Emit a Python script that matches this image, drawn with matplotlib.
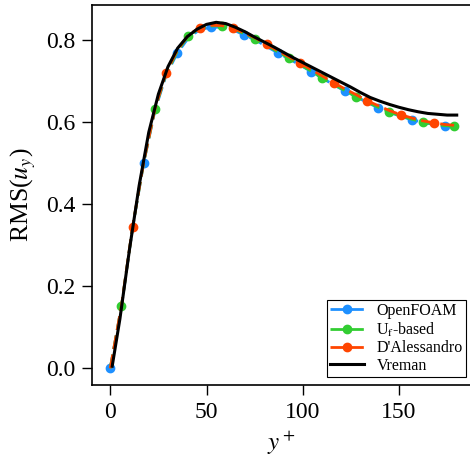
import numpy as np
import matplotlib
matplotlib.use("Agg")
import matplotlib.pyplot as plt

plt.rcParams["font.family"] = ["Liberation Serif", "DejaVu Serif"]
plt.rcParams["mathtext.fontset"] = "stix"

# shared y+ grid for the three LES runs (markers every third point, staggered)
yplus = [0.0, 5.8, 11.6, 17.4, 23.2, 29.0, 34.8, 40.6, 46.4, 52.2, 58.0, 63.8,
         69.6, 75.4, 81.2, 87.0, 92.8, 98.6, 104.4, 110.2, 116.0, 121.8, 127.6,
         133.4, 139.2, 145.0, 150.8, 156.6, 162.4, 168.2, 174.0, 178.8]

openfoam = [0.0, 0.150, 0.343, 0.501, 0.628, 0.714, 0.768, 0.805, 0.825, 0.831,
            0.831, 0.825, 0.812, 0.800, 0.784, 0.769, 0.754, 0.739, 0.723, 0.707,
            0.691, 0.676, 0.662, 0.648, 0.635, 0.624, 0.614, 0.606, 0.599, 0.594,
            0.590, 0.589]
uf_based = [0.0, 0.151, 0.344, 0.502, 0.631, 0.717, 0.772, 0.810, 0.828, 0.834,
            0.835, 0.828, 0.815, 0.803, 0.787, 0.771, 0.756, 0.740, 0.724, 0.707,
            0.692, 0.677, 0.662, 0.649, 0.636, 0.625, 0.615, 0.607, 0.600, 0.595,
            0.591, 0.590]
dalessandro = [0.0, 0.152, 0.345, 0.503, 0.632, 0.720, 0.775, 0.812, 0.830, 0.836,
               0.835, 0.830, 0.817, 0.805, 0.789, 0.774, 0.759, 0.744, 0.728, 0.712,
               0.696, 0.681, 0.667, 0.652, 0.640, 0.628, 0.618, 0.610, 0.603, 0.598,
               0.594, 0.592]

# Vreman reference curve
yplus_vr = [1, 5, 10, 15, 20, 25, 30, 35, 40, 45, 50, 55, 60, 65, 70, 75, 80, 85,
            90, 95, 100, 105, 110, 115, 120, 125, 130, 135, 140, 145, 150, 155,
            160, 165, 170, 175, 180]
vreman = [0.005, 0.12, 0.29, 0.445, 0.575, 0.668, 0.735, 0.780, 0.808, 0.826,
          0.838, 0.843, 0.840, 0.831, 0.820, 0.807, 0.795, 0.783, 0.770, 0.757,
          0.745, 0.733, 0.721, 0.709, 0.697, 0.685, 0.672, 0.660, 0.651, 0.643,
          0.636, 0.630, 0.625, 0.621, 0.619, 0.617, 0.617]

fig = plt.figure(figsize=(4.7, 4.63), dpi=100)
ax = fig.add_axes([0.1957, 0.1685, 0.8043, 0.8205])

for vals, color, label, start in [(openfoam, "#1E90FF", "OpenFOAM", 0),
                                  (uf_based, "#32CD32", r"U$_\mathrm{f}$-based", 1),
                                  (dalessandro, "#FF4500", "D'Alessandro", 2)]:
    ax.plot(yplus, vals, color=color, linestyle=(0, (5, 2)), linewidth=2,
            marker="o", markersize=6, markevery=(start, 3), label=label)
ax.plot(yplus_vr, vreman, color="black", linewidth=2.2, label="Vreman")

ax.set_xlim(-9.5, 186.9)
ax.set_ylim(-0.0407, 0.885)
ax.set_xticks([0, 50, 100, 150])
ax.set_yticks([0.0, 0.2, 0.4, 0.6, 0.8])
ax.set_yticklabels(["0.0", "0.2", "0.4", "0.6", "0.8"])
ax.spines["right"].set_visible(False)
for s in ["left", "bottom", "top"]:
    ax.spines[s].set_linewidth(1.2)
ax.tick_params(direction="out", length=7, width=1, labelsize=17, pad=5)
ax.set_xlabel(r"$y^+$", fontsize=18)
ax.set_ylabel(r"RMS($u_y$)", fontsize=18.5, labelpad=6)

leg = ax.legend(loc="lower right", bbox_to_anchor=(0.989, 0.021), borderaxespad=0,
                fontsize=11.5, fancybox=False, edgecolor="black", framealpha=1,
                labelspacing=0.1, handlelength=2.1, borderpad=0.2)
leg.get_frame().set_linewidth(0.8)

fig.savefig("out.png", dpi=100)
